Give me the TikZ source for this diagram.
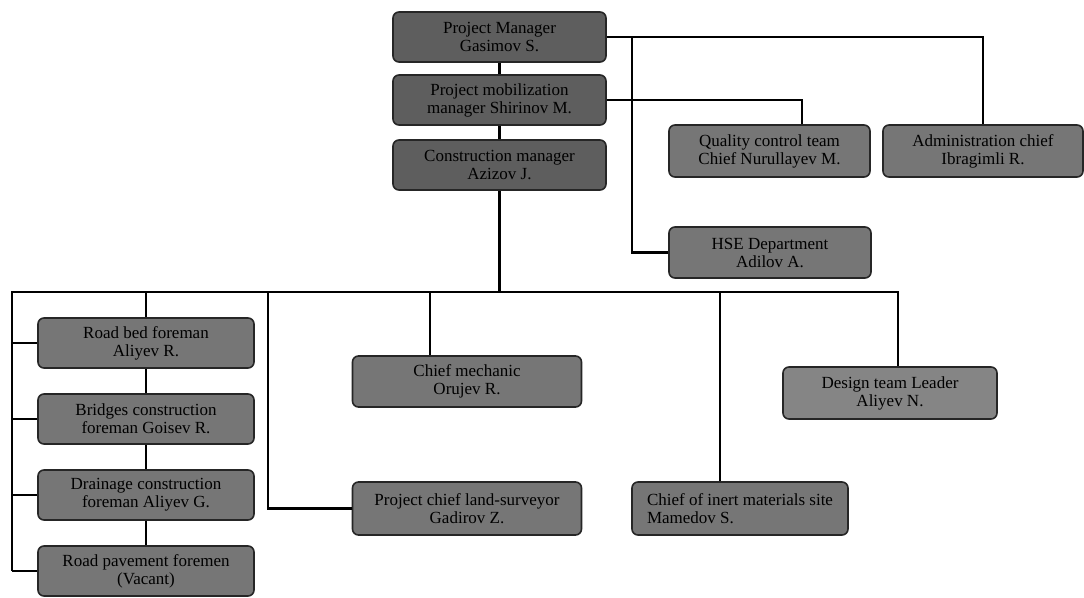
\documentclass[tikz,border=0pt]{standalone}
\usepackage{fontspec}
\setmainfont{Liberation Serif}
\definecolor{boxtop}{HTML}{5E5E5E}
\definecolor{boxmid}{HTML}{767676}
\definecolor{boxlight}{HTML}{858585}
\tikzset{
  post/.style={draw=black!85,line width=1.6pt,rounded corners=6pt,fill=boxmid,
    minimum width=216pt,minimum height=50pt,align=center,inner sep=2pt,
    font=\fontsize{17}{18}\selectfont},
  link/.style={line width=2.4pt}
}
\begin{document}
\begin{tikzpicture}[x=1pt,y=-1pt]
\useasboundingbox (0,0) rectangle (1084,597);

% management
\node (pm) at (499.5,37) [post,fill=boxtop,minimum width=213pt] {Project Manager\\Gasimov S.};
\node (mob) at (499.5,100) [post,fill=boxtop,minimum width=213pt] {Project mobilization\\manager Shirinov M.};
\node (cm) at (499.5,165) [post,fill=boxtop,minimum width=213pt] {Construction manager\\Azizov J.};
\node (qc) at (769.5,151) [post,minimum width=201pt,minimum height=52pt] {Quality control team\\Chief Nurullayev M.};
\node (admin) at (983,151) [post,minimum width=200pt,minimum height=52pt] {Administration chief\\Ibragimli R.};
\node (hse) at (770,252.5) [post,minimum width=202pt,minimum height=51pt] {HSE Department\\Adilov A.};

% site staff
\node (roadbed) at (146,343) [post] {Road bed foreman\\Aliyev R.};
\node (bridges) at (146,419) [post] {Bridges construction\\foreman Goisev R.};
\node (drainage) at (146,495) [post] {Drainage construction\\foreman Aliyev G.};
\node (pavement) at (146,571) [post] {Road pavement foremen\\(Vacant)};
\node (mech) at (467,381.5) [post,minimum width=229pt,minimum height=51pt] {Chief mechanic\\Orujev R.};
\node (survey) at (467,508.5) [post,minimum width=229pt,minimum height=53pt] {Project chief land-surveyor\\Gadirov Z.};
\node (inert) at (740,508.5) [post,align=left,minimum height=53pt] {Chief of inert materials site\\Mamedov S.};
\node (design) at (890,393) [post,fill=boxlight,minimum width=214pt,minimum height=52pt] {Design team Leader\\Aliyev N.};

\coordinate (qctap) at (802,0);
\coordinate (hsetap) at (632,0);
\coordinate (busL) at (12,292);
\coordinate (busR) at (898,292);
\coordinate (surveytap) at (268,292);
\coordinate (mechtap) at (430,292);
\coordinate (inerttap) at (720,292);

\path [link]
    (pm) edge (mob)
    (mob) edge (cm)
    (cm) edge (cm |- busL)
;
\draw [link] (busL |- pavement.west) -- (busL) -- (busR) -- (busR |- design.north);
\draw [link] (pm.east) -| (admin.north);
\draw [link] (mob.east) -| (qctap |- qc.north);
\draw [link] (hsetap |- pm.east) |- (hse.west);

\draw [link] (busL |- pavement.west) -- (pavement.west);
\foreach \n in {roadbed,bridges,drainage}
  \draw [link] (busL |- \n.west) -- (\n.west);
\path [link]
    (roadbed.north |- busL) edge (roadbed.north)
    (roadbed) edge (bridges)
    (bridges) edge (drainage)
    (drainage) edge (pavement)
;
\draw [link] (surveytap) |- (survey.west);
\draw [link] (mechtap) -- (mechtap |- mech.north);
\draw [link] (inerttap) -- (inerttap |- inert.north);

\end{tikzpicture}
\end{document}
